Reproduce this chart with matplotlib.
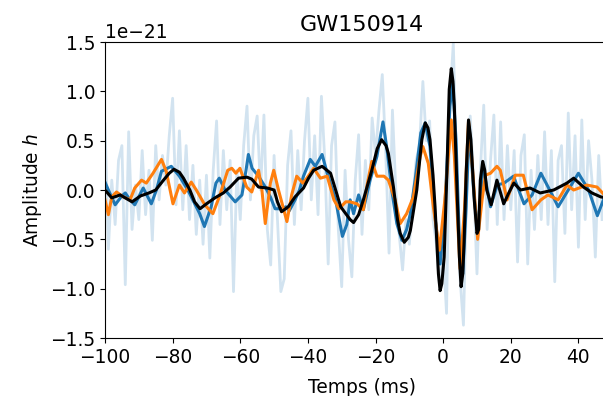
import numpy as np
import matplotlib
matplotlib.use('Agg')
import matplotlib.pyplot as plt

# raw strain, 1 ms steps from -100 ms
raw_t = np.arange(-100, 48)
raw_h = [0.67, -0.60, 0.10, -0.35, 0.30, 0.45, -0.96, 0.59, -0.40, 0.05,
         -0.30, 0.40, -0.25, 0.20, -0.51, 0.45, -0.10, 0.35, 0.05, 0.55,
         0.93, -0.15, 0.60, -0.20, 0.45, -0.30, 0.25, -0.45, 0.10, -0.55,
         0.15, -0.69, 0.20, 0.70, -0.35, 0.40, -0.20, 0.30, -1.03, 0.20,
         -0.30, 0.45, 0.85, -0.10, 0.55, 0.75, 0.00, 0.76, -0.40, -0.76,
         0.35, -0.30, -1.03, -0.90, 0.25, 0.60, -0.35, 0.40, -0.20, 0.50,
         0.93, -0.10, 0.55, -0.25, 0.95, 0.30, -0.75, 0.45, 0.69, -0.40,
         -0.98, 0.20, -0.50, -0.88, 0.10, 0.56, -0.45, 0.30, -0.20, 0.73,
         0.35, 0.80, 1.17, 0.40, -0.64, 0.81, 0.00, -0.45, -0.81, -0.30,
         -0.55, -0.10, 0.30, 0.45, 1.10, 0.50, 0.70, -0.30, -0.55, -1.00,
         -0.60, -1.25, 0.90, 1.49, 0.20, -0.90, -1.37, 0.10, 0.75, 0.10,
         -0.85, 0.20, 0.86, -0.40, 0.30, 0.76, -0.35, 0.69, -0.30, 0.45,
         -0.20, 0.40, -0.73, 0.35, 0.56, -0.75, 0.20, -0.40, 0.35, -0.30,
         0.59, -0.35, 0.40, -0.93, 0.30, 0.45, -0.44, 0.78, -0.20, 0.55,
         -0.58, 0.71, -0.30, 0.50, 0.10, -0.68, 0.35, -0.30]

# filtered strain (blue)
blue_t = [-100, -99, -97, -95, -94, -93, -91.2, -88.7, -86.3, -84.8, -83.3, -80.4,
          -78, -75.5, -72, -70.6, -68.6, -67.2, -66.2, -64.5, -61.5, -59.5, -58.3,
          -57.6, -56.5, -54.6, -52.6, -51.1, -49.7, -47.7, -46.5, -45.5, -43.8,
          -42.5, -41.3, -39.3, -37.8, -35.8, -34.3, -31.8, -29.8, -28.5, -27.5,
          -26.5, -25, -23.6, -21.6, -19.6, -17.8, -16.6, -15.2, -13.7, -12.2,
          -10.8, -9.7, -8.3, -6.6, -5.3, -3.9, -2.4, -0.9, 0.5, 2.0, 2.8, 3.8,
          4.8, 5.8, 6.8, 7.7, 9.0, 10.2, 11.0, 11.8, 12.8, 14.0, 16, 18, 20.8,
          23.9, 26.3, 28.9, 31.5, 34.0, 37, 40, 43, 45.6, 47.4, 48.5]
blue_h = [0.08, 0.0, -0.15, -0.06, -0.03, -0.08, -0.15, 0.02, -0.14, 0.0, 0.19, 0.24,
          0.14, 0.0, -0.24, -0.37, -0.17, 0.07, 0.12, 0.0, -0.12, -0.05, 0.2,
          0.36, 0.22, 0.14, 0.03, -0.07, -0.19, -0.19, -0.17, -0.21, -0.1,
          0.0, 0.14, 0.31, 0.24, 0.36, 0.17, -0.1, -0.47, -0.35, -0.1,
          -0.24, -0.05, -0.2, 0.1, 0.34, 0.69, 0.41, 0.0, -0.34, -0.51,
          -0.40, -0.24, 0.1, 0.58, 0.68, 0.44, -0.27, -0.75, -0.17, 0.85, 1.08, 0.51,
          -0.51, -0.85, -0.17, 0.64, 0.0, -0.42, -0.1, 0.25, 0.05, -0.17, 0.05, 0.07, 0.14,
          -0.14, -0.05, 0.17, 0.0, -0.17, 0.0, 0.17, 0.0, -0.26, -0.1, -0.02]

# second detector, shifted (orange)
orange_t = [-100, -99, -98, -96.6, -94.6, -92.6, -91.2, -89.2, -87.8, -85.8, -83.3,
            -81.9, -79.9, -78, -76.5, -74.5, -73, -70.5, -68.1, -66, -63.7, -62.5,
            -61.3, -60.1, -58.1, -56.6, -54.6, -53.6, -52.6, -51.1, -50.1, -48.7,
            -46.2, -44.8, -43.3, -41.5, -40.3, -38.3, -36.3, -34.3, -32.3, -30.8,
            -28.8, -27.5, -25.5, -23.6, -22.5, -21.1, -19.6, -17.5, -16.2, -14.2,
            -12.7, -10.8, -8.8, -6.8, -6.0, -4.4, -2.9, -1.1, 0.5, 2.4, 3.3, 5.0,
            6.3, 7.5, 8.5, 10.2, 11.5, 12.5, 14, 15.9, 16.9, 18.9, 21.3, 23.7, 26.3,
            28.9, 31, 34, 36.6, 38.6, 42.5, 45.5, 48.5]
orange_h = [-0.1, -0.25, -0.07, -0.02, -0.07, -0.1, 0.02, 0.1, 0.07, 0.17, 0.31,
            0.19, -0.14, 0.05, -0.03, 0.08, 0.0, -0.15, -0.24, -0.05, 0.2, 0.22,
            0.17, 0.22, 0.03, -0.02, 0.2, 0.0, -0.34, 0.07, 0.2, 0.0,
            -0.32, -0.05, 0.14, 0.07, 0.12, 0.22, 0.12, 0.14, -0.1, -0.19,
            -0.12, -0.12, -0.14, -0.2, 0.05, 0.29, 0.14, 0.14, 0.1, -0.1,
            -0.34, -0.24, -0.07, 0.34, 0.44, 0.27, -0.17, -0.61, -0.1, 0.71, 0.35, -0.8,
            -0.2, 0.7, 0.3, -0.5, -0.1, 0.15, 0.17, 0.24, 0.2, -0.1, 0.15, 0.15, -0.2,
            -0.1, -0.05, -0.1, 0.05, 0.0, 0.05, 0.03, -0.08]

# template (black)
black_t = [-100, -98, -95.5, -92, -89.5, -87, -85, -82.7, -81, -79.6, -78, -76.8,
           -74.9, -73.5, -71.9, -70, -67.5, -65, -63, -60.5, -58, -56.6, -54.6, -52,
           -50, -49, -47.8, -45.8, -43.8, -41.3, -39.8, -38.3, -35.8, -33.3, -31.8,
           -30.3, -28.8, -27.5, -26.5, -25, -23.6, -21.1, -19.5, -18.2, -16.9, -16.2,
           -14.7, -13.5, -12.7, -11.5, -10.3, -9.7, -7.8, -6.8, -6.3, -5.3, -4.5,
           -3.9, -3.0, -2.4, -1.4, -0.9, -0.4, 0.3, 1.1, 1.8, 2.4, 2.9, 3.3, 4.1,
           4.8, 5.3, 5.8, 6.2, 6.8, 7.5, 8.2, 9.2, 10.0, 10.5, 11.0, 11.7, 12.3,
           12.9, 14.2, 15.9, 17.9, 19.4, 20.9, 22.9, 25.7, 28.7, 32.7, 36.6, 38.6,
           41.5, 44, 46.6, 48.5]
black_h = [0.0, -0.08, -0.05, -0.12, -0.06, -0.03, 0.0, 0.1, 0.17, 0.21, 0.18, 0.12,
           0.0, -0.12, -0.19, -0.14, -0.08, -0.03, 0.03, 0.12, 0.13, 0.11, 0.03, 0.02,
           0.0, -0.12, -0.22, -0.17, -0.07, 0.02, 0.12, 0.2, 0.24, 0.17, 0.0,
           -0.17, -0.24, -0.30, -0.33, -0.25, -0.10, 0.20, 0.42, 0.51, 0.45, 0.37,
           0.03, -0.3, -0.44, -0.53, -0.48, -0.41, 0.0, 0.35, 0.51, 0.68, 0.63,
           0.51, 0.15, -0.17, -0.85, -1.02, -0.95, -0.68, 0.17, 1.02, 1.23, 1.1, 0.85, 0.0,
           -0.68, -0.98, -0.85, -0.51, 0.17, 0.71, 0.51, -0.1, -0.44, -0.40, 0.1, 0.29, 0.2,
           0.0, -0.15, 0.10, -0.14, -0.03, 0.07, 0.0, 0.02, -0.03, 0.0, 0.07, 0.12,
           0.03, -0.03, -0.07, -0.08]

s = 1e-21

fig = plt.figure(figsize=(6.03, 3.96), dpi=100)
ax = fig.add_axes([105/603., 58/396., 514/603., 296/396.])

ax.plot(raw_t, np.array(raw_h)*s, color='C0', alpha=0.2, lw=2.0)
ax.plot(blue_t, np.array(blue_h)*s, color='C0', lw=2.2)
ax.plot(orange_t, np.array(orange_h)*s, color='C1', lw=2.2)
ax.plot(black_t, np.array(black_h)*s, color='k', lw=2.2)

ax.set_xlim(-100, 52)
ax.set_ylim(-1.5e-21, 1.5e-21)
ax.set_xticks([-100, -80, -60, -40, -20, 0, 20, 40])
ax.set_yticks(np.array([-1.5, -1.0, -0.5, 0.0, 0.5, 1.0, 1.5])*s)
ax.tick_params(labelsize=13.4)
ax.yaxis.get_offset_text().set_fontsize(13.4)
ax.set_xlabel('Temps (ms)', fontsize=13.4, labelpad=8)
ax.set_ylabel('Amplitude $h$', fontsize=13.4)
ax.set_title('GW150914', fontsize=16, pad=8)

fig.savefig('out.png', dpi=100)
